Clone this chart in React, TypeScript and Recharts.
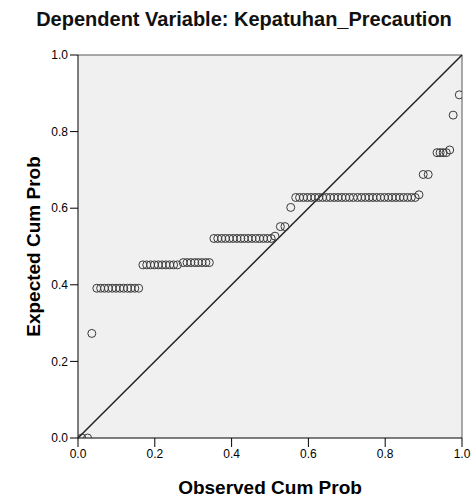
import React from 'react';
import {
  ScatterChart,
  Scatter,
  XAxis,
  YAxis,
  ReferenceArea,
  ReferenceLine
} from 'recharts';

const titleText = 'Dependent Variable: Kepatuhan_Precaution';
const xAxisLabel = 'Observed Cum Prob';
const yAxisLabel = 'Expected Cum Prob';
const axisTicks = [0, 0.2, 0.4, 0.6, 0.8, 1.0];

// observed cumulative probability, one value per case
const observedCumProb = [
  0.01, 0.025, 0.036,
  0.049, 0.059, 0.069, 0.079, 0.089, 0.099, 0.109, 0.119, 0.129, 0.138, 0.148, 0.158,
  0.169, 0.179, 0.189, 0.199, 0.209, 0.219, 0.229, 0.239, 0.249, 0.259,
  0.274, 0.284, 0.294, 0.304, 0.313, 0.323, 0.333, 0.342,
  0.354, 0.364, 0.374, 0.384, 0.394, 0.404, 0.414, 0.424, 0.433, 0.443, 0.453, 0.463, 0.473, 0.483, 0.493, 0.503,
  0.513, 0.527, 0.539, 0.554,
  0.567, 0.577, 0.587, 0.597, 0.607, 0.617, 0.627, 0.637, 0.647, 0.657, 0.667, 0.677, 0.687, 0.697, 0.707, 0.717,
  0.728, 0.738, 0.748, 0.758, 0.768, 0.778, 0.788, 0.798, 0.808, 0.818, 0.828, 0.838, 0.848, 0.858, 0.868, 0.878,
  0.888, 0.899, 0.912,
  0.935, 0.943, 0.951, 0.959, 0.968, 0.977, 0.993
];

// expected cumulative probability, same order as above
const expectedCumProb = [
  0.0, 0.0, 0.273,
  0.391, 0.391, 0.391, 0.391, 0.391, 0.391, 0.391, 0.391, 0.391, 0.391, 0.391, 0.391,
  0.452, 0.452, 0.452, 0.452, 0.452, 0.452, 0.452, 0.452, 0.452, 0.452,
  0.458, 0.458, 0.458, 0.458, 0.458, 0.458, 0.458, 0.458,
  0.521, 0.521, 0.521, 0.521, 0.521, 0.521, 0.521, 0.521, 0.521, 0.521, 0.521, 0.521, 0.521, 0.521, 0.521, 0.521,
  0.527, 0.552, 0.552, 0.602,
  0.628, 0.628, 0.628, 0.628, 0.628, 0.628, 0.628, 0.628, 0.628, 0.628, 0.628, 0.628, 0.628, 0.628, 0.628, 0.628,
  0.628, 0.628, 0.628, 0.628, 0.628, 0.628, 0.628, 0.628, 0.628, 0.628, 0.628, 0.628, 0.628, 0.628, 0.628, 0.628,
  0.635, 0.688, 0.688,
  0.745, 0.745, 0.745, 0.745, 0.752, 0.843, 0.896
];

const points = observedCumProb.map((x, i) => ({ x, y: expectedCumProb[i] }));

const FONT = '"Liberation Sans", Arial, sans-serif';

const HollowCircle = (props: any) => {
  const { cx, cy } = props;
  if (cx == null || cy == null) return null;
  return <circle cx={cx} cy={cy} r={4} fill="none" stroke="#3a3a3a" strokeWidth={1} />;
};

const YLabel = ({ viewBox }: any) => {
  const cx = 25;
  const cy = viewBox.y + viewBox.height / 2;
  return (
    <text
      x={cx}
      y={cy}
      transform={`rotate(-90 ${cx} ${cy})`}
      textAnchor="middle"
      dominantBaseline="central"
      fontFamily={FONT}
      fontSize={19}
      fontWeight="bold"
      fill="#000"
    >
      {yAxisLabel}
    </text>
  );
};

export default function App() {
  const fmt = (v: number) => v.toFixed(1);
  return (
    <div style={{ position: 'relative', width: 473, height: 500, fontFamily: FONT }}>
      <style>{'body{margin:0;overflow:hidden}'}</style>
      <div
        style={{
          position: 'absolute',
          left: 8,
          width: 472,
          top: 8,
          textAlign: 'center',
          fontSize: 20,
          fontWeight: 'bold',
          color: '#111',
          whiteSpace: 'nowrap'
        }}
      >
        {titleText}
      </div>
      <div style={{ position: 'absolute', left: 8, top: 8 }}>
        <ScatterChart
          width={465}
          height={492}
          margin={{ top: 47, right: 11, left: 0, bottom: 0 }}
        >
          <ReferenceArea x1={0} x2={1} y1={0} y2={1} fill="#f0f0f0" fillOpacity={1} stroke="none" />
          <ReferenceLine y={1} stroke="#8c8c8c" strokeWidth={1.5} />
          <ReferenceLine x={1} stroke="#8c8c8c" strokeWidth={1.5} />
          <XAxis
            type="number"
            dataKey="x"
            domain={[0, 1]}
            ticks={axisTicks}
            tickFormatter={fmt}
            height={62}
            stroke="#000"
            tickSize={9}
            tickMargin={2}
            tick={{ fill: '#000', fontSize: 12, fontFamily: FONT }}
            allowDataOverflow
            label={{
              value: xAxisLabel,
              position: 'insideBottom',
              offset: 6,
              style: { fontFamily: FONT, fontSize: 19, fontWeight: 'bold', fill: '#000' }
            }}
          />
          <YAxis
            type="number"
            dataKey="y"
            domain={[0, 1]}
            ticks={axisTicks}
            tickFormatter={fmt}
            width={70}
            stroke="#000"
            tickSize={8}
            tickMargin={2}
            tick={{ fill: '#000', fontSize: 12, fontFamily: FONT }}
            allowDataOverflow
            label={{ content: <YLabel /> }}
          />
          <ReferenceLine
            segment={[{ x: 0, y: 0 }, { x: 1, y: 1 }]}
            stroke="#222"
            strokeWidth={1.5}
          />
          <Scatter data={points} shape={<HollowCircle />} isAnimationActive={false} />
        </ScatterChart>
      </div>
    </div>
  );
}
